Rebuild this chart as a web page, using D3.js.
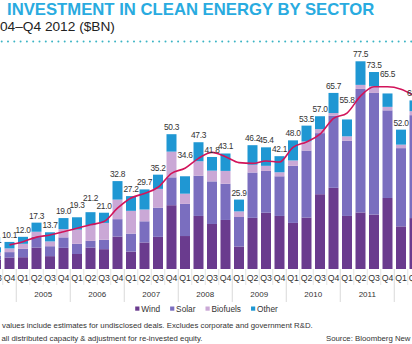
<!DOCTYPE html>
<html>
<head>
<meta charset="utf-8">
<script src="https://cdn.jsdelivr.net/npm/d3@7"></script>
<style>
  html, body { margin: 0; padding: 0; background: #fff; }
  svg { display: block; font-family: "Liberation Sans", Arial, Helvetica, sans-serif; }
  .narrow { font-family: "Liberation Sans Narrow", "Arial Narrow", "Liberation Sans", Arial, sans-serif; }
</style>
</head>
<body>
<div id="chart"></div>
<script>
// Quarterly clean energy investment, $BN
const periods = [
  'Q3 2004', 'Q4 2004',
  'Q1 2005', 'Q2 2005', 'Q3 2005', 'Q4 2005',
  'Q1 2006', 'Q2 2006', 'Q3 2006', 'Q4 2006',
  'Q1 2007', 'Q2 2007', 'Q3 2007', 'Q4 2007',
  'Q1 2008', 'Q2 2008', 'Q3 2008', 'Q4 2008',
  'Q1 2009', 'Q2 2009', 'Q3 2009', 'Q4 2009',
  'Q1 2010', 'Q2 2010', 'Q3 2010', 'Q4 2010',
  'Q1 2011', 'Q2 2011', 'Q3 2011', 'Q4 2011',
  'Q1 2012', 'Q2 2012'
];
const wind     = [3.5, 4.3, 4.4, 8.0, 4.8, 7.9, 5.6, 8.0, 7.4, 12.1, 6.5, 9.9, 12.0, 23.8, 12.3, 19.8, 16.8, 18.3, 8.4, 19.1, 21.0, 19.8, 17.2, 19.2, 27.9, 30.3, 19.8, 21.1, 20.3, 26.5, 15.9, 19.0];
const solar    = [1.5, 2.0, 3.2, 4.0, 3.7, 3.9, 3.8, 2.5, 3.5, 6.5, 6.7, 7.9, 10.9, 10.4, 12.0, 15.0, 15.9, 13.5, 11.0, 16.9, 15.6, 14.8, 21.3, 25.0, 22.8, 26.9, 28.1, 46.1, 45.4, 32.7, 29.2, 38.4];
const biofuels = [1.2, 1.4, 1.8, 1.9, 1.8, 3.1, 5.3, 5.9, 6.3, 7.3, 8.5, 4.4, 7.0, 9.6, 3.8, 5.4, 4.0, 4.8, 2.1, 2.9, 1.9, 1.5, 2.0, 3.4, 1.5, 1.0, 1.6, 1.5, 2.5, 1.3, 1.3, 1.5];
const other    = [1.9, 2.4, 2.6, 3.4, 3.4, 4.1, 4.6, 4.8, 3.8, 6.9, 5.5, 7.5, 5.3, 6.5, 6.5, 7.1, 5.1, 6.5, 4.4, 7.3, 6.9, 6.0, 7.5, 5.9, 4.8, 7.5, 6.3, 8.8, 5.3, 5.0, 5.6, 4.0];
// four-quarter trend line
const trend    = [null, 9.0, 10.2, 11.9, 12.7, 13.9, 15.2, 16.5, 17.7, 22.7, 26.5, 28.2, 30.5, 35.7, 37.6, 41.3, 43.5, 41.9, 39.7, 39.4, 40.3, 39.9, 45.4, 47.4, 50.3, 56.2, 58.2, 64.5, 68.0, 68.0, 67.1, 64.6];
const yearLabels = ['2005', '2006', '2007', '2008', '2009', '2010', '2011'];
const sectors = ['Wind', 'Solar', 'Biofuels', 'Other'];
const colors = ['#6a3b8e', '#7a6ebf', '#caa8d6', '#1f97d3'];

const width = 412, height = 344;
const baseY = 269;

const svg = d3.select('#chart').append('svg')
  .attr('width', width)
  .attr('height', height);

svg.append('rect').attr('width', width).attr('height', height).attr('fill', '#fff');

// heading
svg.append('text')
  .attr('x', 7).attr('y', 15)
  .attr('font-size', 16.7).attr('font-weight', 'bold')
  .attr('fill', '#29abe0')
  .text('INVESTMENT IN CLEAN ENERGY BY SECTOR');

svg.append('text')
  .attr('x', 0).attr('y', 30.5)
  .attr('font-size', 13.7)
  .attr('fill', '#222')
  .text('04–Q4 2012 ($BN)');

svg.append('line')
  .attr('x1', 0).attr('x2', width)
  .attr('y1', 41.5).attr('y2', 41.5)
  .attr('stroke', '#3bb4c4')
  .attr('stroke-width', 2)
  .attr('stroke-linecap', 'round')
  .attr('stroke-dasharray', '0 6.3')
  .attr('stroke-dashoffset', -1.7);

// scales
const step = 13.5;
const x = d3.scaleBand()
  .domain(periods)
  .range([-10.75, -10.75 + periods.length * step])
  .paddingInner(0.26)
  .paddingOuter(0.13);

const y = d3.scaleLinear().domain([0, 80]).range([baseY, baseY - 80 * 2.68]);

const rows = periods.map((p, i) => ({
  period: p, Wind: wind[i], Solar: solar[i], Biofuels: biofuels[i], Other: other[i]
}));
const series = d3.stack().keys(sectors)(rows);
const total = d => d.Wind + d.Solar + d.Biofuels + d.Other;

svg.append('g')
  .selectAll('g')
  .data(series)
  .join('g')
  .attr('fill', (d, i) => colors[i])
  .selectAll('rect')
  .data(d => d)
  .join('rect')
  .attr('x', d => x(d.data.period))
  .attr('width', x.bandwidth())
  .attr('y', d => y(d[1]))
  .attr('height', d => y(d[0]) - y(d[1]));

// trend line
const trendLine = d3.line()
  .defined(d => d.v != null)
  .x(d => x(d.p) + x.bandwidth() / 2)
  .y(d => y(d.v))
  .curve(d3.curveMonotoneX);

const trendPts = periods.map((p, i) => ({ p, v: trend[i] }));

svg.append('path')
  .datum(trendPts)
  .attr('fill', 'none')
  .attr('stroke', '#d2145a')
  .attr('stroke-width', 1.6)
  .attr('d', trendLine);

// value labels: lift over the trend line where it cuts through,
// and step up when a neighbour sits at the same height
const fmt = d3.format('.1f');
const labels = svg.append('g')
  .attr('class', 'narrow')
  .attr('font-size', 8.4)
  .attr('letter-spacing', -0.35)
  .attr('fill', '#333')
  .selectAll('text')
  .data(rows)
  .join('text')
  .attr('x', d => x(d.period) + x.bandwidth() / 2)
  .attr('text-anchor', 'middle')
  .text(d => fmt(total(d)));

let prevY = null, prevRight = -Infinity;
labels.each(function (d, i) {
  let ly = y(total(d)) - 4;
  if (trend[i] != null) {
    const ty = y(trend[i]);
    const gap = y(total(d)) - ty;
    if (gap > 5.5 && gap < 12) ly = ty - 10;
  }
  const w = this.getComputedTextLength();
  const left = x(d.period) + x.bandwidth() / 2 - w / 2;
  if (prevY != null && left - prevRight < 2.5 && Math.abs(ly - prevY) < 1.5) ly = prevY - 6.5;
  d3.select(this).attr('y', ly);
  prevY = ly;
  prevRight = left + w;
});

// category axis
const pad = x.step() * x.paddingInner() / 2;
const axis = svg.append('g');

axis.selectAll('line.q')
  .data(periods)
  .join('line')
  .attr('class', 'q')
  .attr('x1', p => x(p) - pad).attr('x2', p => x(p) - pad)
  .attr('y1', baseY)
  .attr('y2', p => p.startsWith('Q1') ? 302 : 285)
  .attr('stroke', p => p.startsWith('Q1') ? '#cfcfcf' : '#dedede')
  .attr('stroke-width', 0.8);

axis.selectAll('text.q')
  .data(periods)
  .join('text')
  .attr('class', 'q narrow')
  .attr('x', p => x(p) + x.bandwidth() / 2)
  .attr('y', 280.5)
  .attr('text-anchor', 'middle')
  .attr('font-size', 8.8)
  .attr('fill', '#333')
  .text(p => p.split(' ')[0]);

axis.selectAll('text.yr')
  .data(yearLabels)
  .join('text')
  .attr('class', 'yr')
  .attr('x', yr => x('Q3 ' + yr) - pad)
  .attr('y', 297)
  .attr('text-anchor', 'middle')
  .attr('font-size', 8)
  .attr('fill', '#333')
  .text(yr => yr);

// legend
const legend = svg.append('g');
let lx = 0;
sectors.forEach((s, i) => {
  const item = legend.append('g').attr('transform', `translate(${lx},0)`);
  item.append('rect')
    .attr('x', 0).attr('y', 306.5)
    .attr('width', 4.2).attr('height', 4.2)
    .attr('fill', colors[i]);
  const t = item.append('text')
    .attr('x', 6).attr('y', 311.5)
    .attr('font-size', 8.3)
    .attr('fill', '#333')
    .text(s);
  lx += 6 + t.node().getComputedTextLength() + 10;
});
legend.attr('transform', `translate(${206.5 - (lx - 10) / 2},0)`);

// notes
const notes = svg.append('g').attr('font-size', 7.8).attr('fill', '#333');
notes.append('text').attr('x', 2).attr('y', 327.5)
  .text('values include estimates for undisclosed deals. Excludes corporate and government R&D.');
notes.append('text').attr('x', 1.5).attr('y', 340.5)
  .text('all distributed capacity & adjustment for re-invested equity.');
notes.append('text').attr('x', 326).attr('y', 340.5)
  .text('Source: Bloomberg New Energy Finance');
</script>
</body>
</html>
